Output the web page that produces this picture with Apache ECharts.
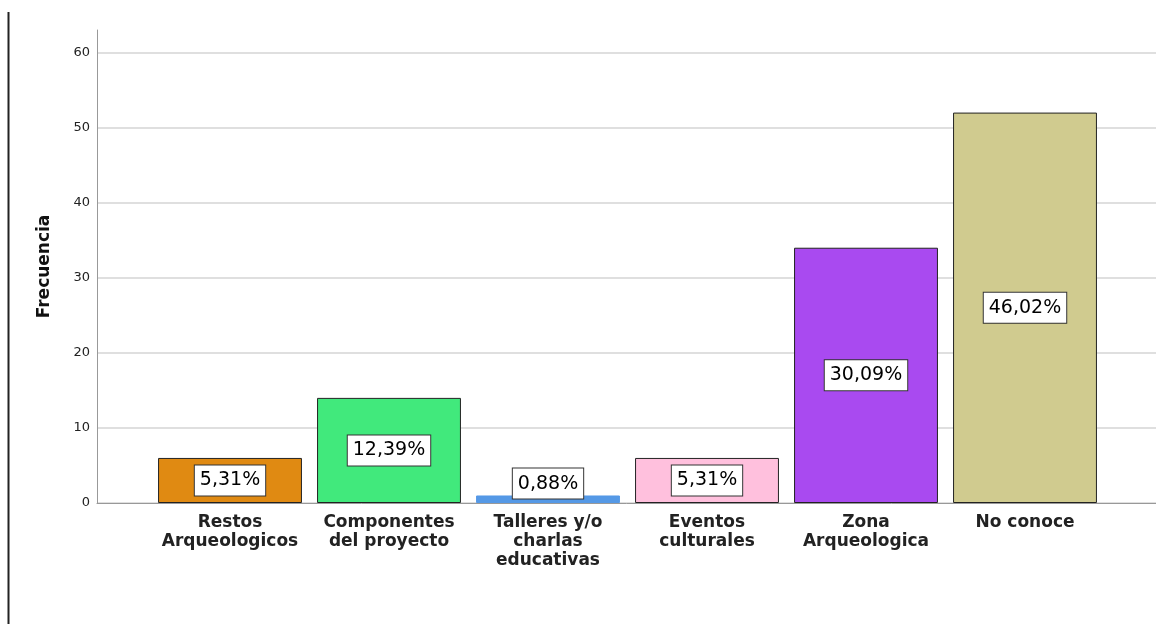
<!DOCTYPE html>
<html>
<head>
<meta charset="utf-8">
<script src="https://cdn.jsdelivr.net/npm/echarts@6/dist/echarts.min.js"></script>
<style>
html,body{margin:0;padding:0;background:#fff;}
#chart{width:1156px;height:624px;}
</style>
</head>
<body>
<div id="chart"></div>
<script>
const categories = [
  'Restos\nArqueologicos',
  'Componentes\ndel proyecto',
  'Talleres y/o\ncharlas\neducativas',
  'Eventos\nculturales',
  'Zona\nArqueologica',
  'No conoce'
];
const frequencies = [6, 14, 1, 6, 34, 52];
const barColors = ['#e08a12', '#41e97c', '#5599e6', '#ffc0dd', '#a94af0', '#d0cb8f'];
const yTicks = [0, 10, 20, 30, 40, 50, 60];
const axisTitle = 'Frecuencia';

const total = frequencies.reduce((a, b) => a + b, 0);
const yMax = 63;

const chart = echarts.init(document.getElementById('chart'));

const barData = frequencies.map((v, i) => {
  const item = {
    value: v,
    itemStyle: {
      color: barColors[i],
      borderColor: v < 3 ? barColors[i] : '#222',
      borderWidth: 1
    }
  };
  if (v < 3) {
    item.label = { position: 'top', distance: -3 };
  }
  return item;
});

chart.setOption({
  animation: false,
  backgroundColor: '#fff',
  graphic: [{
    type: 'line',
    shape: { x1: 8.5, y1: 12, x2: 8.5, y2: 624 },
    style: { stroke: '#222', lineWidth: 2 }
  }],
  grid: [
    { left: 97, right: 0, top: 30, bottom: 121 },
    { left: 150.5, right: 51.5, top: 30, bottom: 121 }
  ],
  xAxis: [
    {
      gridIndex: 0, type: 'value', min: 0, max: 1,
      axisLine: { show: true, lineStyle: { color: '#999', width: 1 } },
      axisTick: { show: false }, axisLabel: { show: false }, splitLine: { show: false }
    },
    {
      gridIndex: 1, type: 'category', data: categories,
      axisLine: { show: false }, axisTick: { show: false },
      axisLabel: {
        interval: 0, margin: 10,
        fontFamily: 'DejaVu Sans', fontWeight: 'bold', fontSize: 17,
        lineHeight: 19, color: '#222'
      }
    }
  ],
  yAxis: [
    {
      gridIndex: 0, type: 'value', min: 0, max: yMax, interval: 10,
      name: axisTitle, nameLocation: 'middle', nameRotate: 90, nameGap: 44,
      nameTextStyle: { fontFamily: 'DejaVu Sans', fontWeight: 'bold', fontSize: 17, color: '#111' },
      axisLine: { show: true, lineStyle: { color: '#999', width: 1 } },
      axisTick: { show: false },
      axisLabel: {
        showMaxLabel: false, margin: 7,
        fontFamily: 'DejaVu Sans', fontSize: 13, color: '#222',
        formatter: v => (yTicks.indexOf(v) >= 0 ? String(v) : '')
      },
      splitLine: { show: true, showMaxLine: false, lineStyle: { color: '#d4d4d4', width: 1.5 } }
    },
    {
      gridIndex: 1, type: 'value', min: 0, max: yMax, show: false
    }
  ],
  series: [{
    type: 'bar',
    xAxisIndex: 1, yAxisIndex: 1,
    data: barData,
    barCategoryGap: '9.5%',
    label: {
      show: true, position: 'inside',
      formatter: p => (p.value / total * 100).toFixed(2).replace('.', ',') + '%',
      fontFamily: 'DejaVu Sans', fontSize: 19, color: '#000', lineHeight: 19,
      backgroundColor: '#fff', borderColor: '#333', borderWidth: 1,
      padding: [6, 5, 5, 5]
    }
  }]
});
</script>
</body>
</html>
